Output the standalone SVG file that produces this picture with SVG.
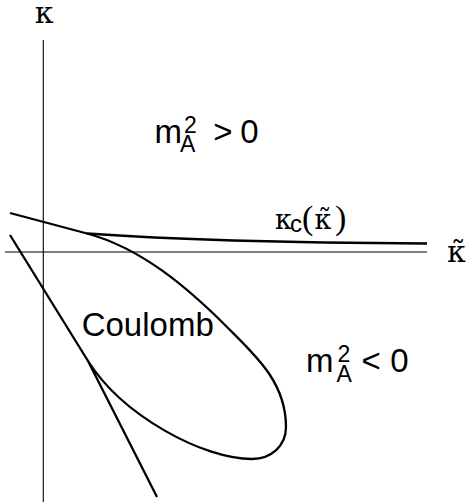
<svg xmlns="http://www.w3.org/2000/svg" width="469" height="502" viewBox="0 0 469 502">
<style>
.axis{fill:none;stroke:#000;stroke-width:1.1}
.curve{fill:none;stroke:#000;stroke-width:2.3;stroke-linejoin:round;stroke-linecap:butt}
.serif{font-family:"Liberation Serif","Times New Roman",serif;fill:#000}
.greek{font-family:"DejaVu Serif","Liberation Serif",serif;fill:#000}
.sans{font-family:"Liberation Sans",Arial,sans-serif;fill:#000}
</style>
<rect width="469" height="502" fill="#fff"/>
<g id="axes">
<path class="axis" d="M43.3,40 V502"/>
<path class="axis" d="M5,252 H427"/>
</g>
<g id="curves">
<path class="curve" d="M10,213 L87,233.5 C141,248 187,287 227,327 C255,355 286,382 286,427 C286,446 271,459 252,459 C203,459 123,416 88,361 L157,497"/>
<path class="curve" d="M10,235 L88,361"/>
<path class="curve" d="M87,233.5 C150,238 250,242.5 427,243.5"/>
</g>
<g id="labels">
<text class="greek" x="44" y="23.3" font-size="30" text-anchor="middle">κ</text>
<text class="greek" x="447" y="261.7" font-size="30">κ̃</text>
<text class="sans" x="81.7" y="336" font-size="33">Coulomb</text>
<text class="sans" font-size="33"><tspan x="154.5" y="142.7">m</tspan><tspan x="180" y="151.7" font-size="23">A</tspan><tspan x="184" y="133.3" font-size="23">2</tspan><tspan x="213.3" y="142.7">&gt;</tspan><tspan x="240.3" y="142.7">0</tspan></text>
<text class="sans" font-size="33"><tspan x="306" y="371.7">m</tspan><tspan x="336.5" y="381.7" font-size="23">A</tspan><tspan x="337.5" y="361.7" font-size="23">2</tspan><tspan x="361.5" y="371.7">&lt;</tspan><tspan x="390.3" y="371.7">0</tspan></text>
<text class="greek" font-size="27"><tspan x="275" y="228.5">κ</tspan><tspan class="sans" x="290" y="232" font-size="24">c</tspan><tspan class="serif" x="302" y="229" font-size="34">(</tspan><tspan x="314.5" y="228.5">κ̃</tspan><tspan class="serif" x="335" y="229" font-size="34">)</tspan></text>
</g>
</svg>
